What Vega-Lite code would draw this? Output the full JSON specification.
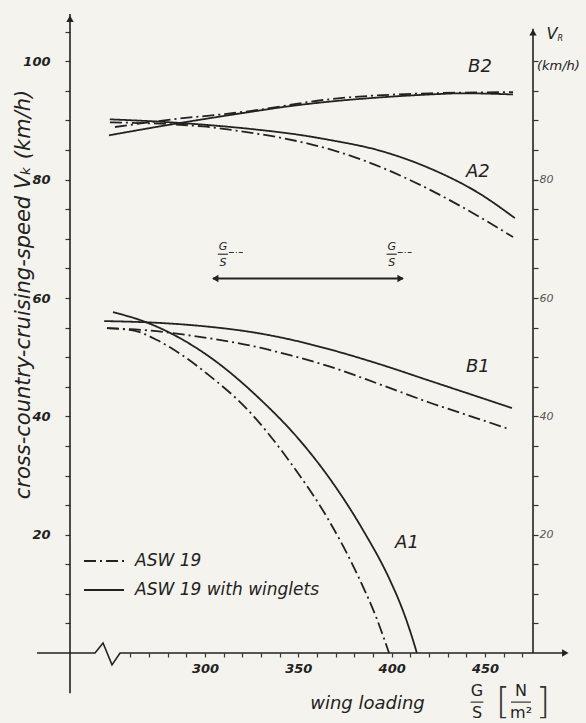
{
  "$schema": "https://vega.github.io/schema/vega-lite/v6.json",
  "width": 463,
  "height": 639,
  "autosize": {"type": "none"},
  "padding": {"left": 70, "top": 14, "right": 53, "bottom": 70},
  "background": "#f5f3ee",
  "config": {"view": {"stroke": null}, "font": "DejaVu Sans"},
  "datasets": {
    "curves": [
      {"curve": "A1", "glider": "ASW 19 with winglets", "w": 250.7, "v": 57.6},
      {"curve": "A1", "glider": "ASW 19 with winglets", "w": 266.8, "v": 56.1},
      {"curve": "A1", "glider": "ASW 19 with winglets", "w": 281.3, "v": 54.1},
      {"curve": "A1", "glider": "ASW 19 with winglets", "w": 302.7, "v": 50.0},
      {"curve": "A1", "glider": "ASW 19 with winglets", "w": 329.5, "v": 42.9},
      {"curve": "A1", "glider": "ASW 19 with winglets", "w": 350.9, "v": 35.9},
      {"curve": "A1", "glider": "ASW 19 with winglets", "w": 367.0, "v": 29.4},
      {"curve": "A1", "glider": "ASW 19 with winglets", "w": 384.6, "v": 20.8},
      {"curve": "A1", "glider": "ASW 19 with winglets", "w": 399.1, "v": 12.3},
      {"curve": "A1", "glider": "ASW 19 with winglets", "w": 405.5, "v": 7.6},
      {"curve": "A1", "glider": "ASW 19 with winglets", "w": 410.5, "v": 3.1},
      {"curve": "A1", "glider": "ASW 19 with winglets", "w": 413.5, "v": 0},
      {"curve": "A2", "glider": "ASW 19 with winglets", "w": 249.0, "v": 90.2},
      {"curve": "A2", "glider": "ASW 19 with winglets", "w": 281.0, "v": 89.7},
      {"curve": "A2", "glider": "ASW 19 with winglets", "w": 303.0, "v": 89.2},
      {"curve": "A2", "glider": "ASW 19 with winglets", "w": 329.5, "v": 88.4},
      {"curve": "A2", "glider": "ASW 19 with winglets", "w": 350.0, "v": 87.6},
      {"curve": "A2", "glider": "ASW 19 with winglets", "w": 367.0, "v": 86.7},
      {"curve": "A2", "glider": "ASW 19 with winglets", "w": 393.7, "v": 84.9},
      {"curve": "A2", "glider": "ASW 19 with winglets", "w": 420.5, "v": 81.9},
      {"curve": "A2", "glider": "ASW 19 with winglets", "w": 447.3, "v": 77.6},
      {"curve": "A2", "glider": "ASW 19 with winglets", "w": 466.0, "v": 73.5},
      {"curve": "B1", "glider": "ASW 19 with winglets", "w": 246.0, "v": 56.1},
      {"curve": "B1", "glider": "ASW 19 with winglets", "w": 275.0, "v": 55.8},
      {"curve": "B1", "glider": "ASW 19 with winglets", "w": 297.0, "v": 55.3},
      {"curve": "B1", "glider": "ASW 19 with winglets", "w": 329.5, "v": 54.0},
      {"curve": "B1", "glider": "ASW 19 with winglets", "w": 351.0, "v": 52.6},
      {"curve": "B1", "glider": "ASW 19 with winglets", "w": 367.0, "v": 51.3},
      {"curve": "B1", "glider": "ASW 19 with winglets", "w": 393.7, "v": 48.8},
      {"curve": "B1", "glider": "ASW 19 with winglets", "w": 420.5, "v": 46.0},
      {"curve": "B1", "glider": "ASW 19 with winglets", "w": 447.3, "v": 43.2},
      {"curve": "B1", "glider": "ASW 19 with winglets", "w": 464.4, "v": 41.4},
      {"curve": "B2", "glider": "ASW 19 with winglets", "w": 248.6, "v": 87.5},
      {"curve": "B2", "glider": "ASW 19 with winglets", "w": 281.3, "v": 89.3},
      {"curve": "B2", "glider": "ASW 19 with winglets", "w": 329.5, "v": 91.7},
      {"curve": "B2", "glider": "ASW 19 with winglets", "w": 340.2, "v": 92.2},
      {"curve": "B2", "glider": "ASW 19 with winglets", "w": 367.0, "v": 93.2},
      {"curve": "B2", "glider": "ASW 19 with winglets", "w": 393.7, "v": 93.9},
      {"curve": "B2", "glider": "ASW 19 with winglets", "w": 420.5, "v": 94.4},
      {"curve": "B2", "glider": "ASW 19 with winglets", "w": 438.2, "v": 94.6},
      {"curve": "B2", "glider": "ASW 19 with winglets", "w": 465.0, "v": 94.4},
      {"curve": "A1", "glider": "ASW 19", "w": 247.5, "v": 54.9},
      {"curve": "A1", "glider": "ASW 19", "w": 262.0, "v": 54.5},
      {"curve": "A1", "glider": "ASW 19", "w": 274.3, "v": 52.9},
      {"curve": "A1", "glider": "ASW 19", "w": 288.0, "v": 50.3},
      {"curve": "A1", "glider": "ASW 19", "w": 301.1, "v": 47.2},
      {"curve": "A1", "glider": "ASW 19", "w": 322.0, "v": 41.4},
      {"curve": "A1", "glider": "ASW 19", "w": 347.1, "v": 31.6},
      {"curve": "A1", "glider": "ASW 19", "w": 366.0, "v": 22.6},
      {"curve": "A1", "glider": "ASW 19", "w": 382.0, "v": 13.0},
      {"curve": "A1", "glider": "ASW 19", "w": 392.0, "v": 5.8},
      {"curve": "A1", "glider": "ASW 19", "w": 398.6, "v": 0},
      {"curve": "A2", "glider": "ASW 19", "w": 249.1, "v": 89.7},
      {"curve": "A2", "glider": "ASW 19", "w": 298.9, "v": 89.0},
      {"curve": "A2", "glider": "ASW 19", "w": 318.7, "v": 88.2},
      {"curve": "A2", "glider": "ASW 19", "w": 340.2, "v": 87.1},
      {"curve": "A2", "glider": "ASW 19", "w": 357.8, "v": 85.9},
      {"curve": "A2", "glider": "ASW 19", "w": 384.6, "v": 83.3},
      {"curve": "A2", "glider": "ASW 19", "w": 411.4, "v": 79.7},
      {"curve": "A2", "glider": "ASW 19", "w": 438.2, "v": 75.3},
      {"curve": "A2", "glider": "ASW 19", "w": 465.0, "v": 70.3},
      {"curve": "B1", "glider": "ASW 19", "w": 247.5, "v": 54.9},
      {"curve": "B1", "glider": "ASW 19", "w": 266.8, "v": 54.6},
      {"curve": "B1", "glider": "ASW 19", "w": 293.6, "v": 53.6},
      {"curve": "B1", "glider": "ASW 19", "w": 329.5, "v": 51.6},
      {"curve": "B1", "glider": "ASW 19", "w": 346.0, "v": 50.3},
      {"curve": "B1", "glider": "ASW 19", "w": 367.0, "v": 48.4},
      {"curve": "B1", "glider": "ASW 19", "w": 393.7, "v": 45.4},
      {"curve": "B1", "glider": "ASW 19", "w": 420.5, "v": 42.3},
      {"curve": "B1", "glider": "ASW 19", "w": 447.3, "v": 39.5},
      {"curve": "B1", "glider": "ASW 19", "w": 462.3, "v": 37.9},
      {"curve": "B2", "glider": "ASW 19", "w": 251.8, "v": 88.9},
      {"curve": "B2", "glider": "ASW 19", "w": 288.2, "v": 90.4},
      {"curve": "B2", "glider": "ASW 19", "w": 308.0, "v": 91.0},
      {"curve": "B2", "glider": "ASW 19", "w": 324.1, "v": 91.6},
      {"curve": "B2", "glider": "ASW 19", "w": 367.0, "v": 93.6},
      {"curve": "B2", "glider": "ASW 19", "w": 420.5, "v": 94.6},
      {"curve": "B2", "glider": "ASW 19", "w": 465.0, "v": 94.8}
    ],
    "axislines": [
      {"line": "L", "i": 1, "w": 227.7, "v": -6.8},
      {"line": "L", "i": 2, "w": 227.7, "v": 108.0},
      {"line": "R", "i": 1, "w": 475.7, "v": 0},
      {"line": "R", "i": 2, "w": 475.7, "v": 105.5},
      {"line": "X", "i": 1, "w": 210.0, "v": 0},
      {"line": "X", "i": 2, "w": 241.1, "v": 0},
      {"line": "X", "i": 3, "w": 245.4, "v": 1.7},
      {"line": "X", "i": 4, "w": 250.2, "v": -2.0},
      {"line": "X", "i": 5, "w": 254.5, "v": 0},
      {"line": "X", "i": 6, "w": 492.0, "v": 0}
    ],
    "heads": [
      {"dir": "up", "w": 227.7, "v": 107.2},
      {"dir": "up", "w": 475.7, "v": 104.9},
      {"dir": "right", "w": 493.0, "v": 0},
      {"dir": "left", "w": 305.5, "v": 63.3},
      {"dir": "right", "w": 404.8, "v": 63.3}
    ],
    "gsarrow": [{"w": 304.3, "w2": 406.0, "v": 63.3}],
    "fracbars": [
      {"w": 442.3, "w2": 449.1, "v": -8.3},
      {"w": 463.9, "w2": 474.6, "v": -8.3},
      {"w": 306.9, "w2": 312.3, "v": 67.4},
      {"w": 397.3, "w2": 402.7, "v": 67.4}
    ],
    "snippets": [
      {"w": 312.8, "w2": 320.3, "v": 67.7},
      {"w": 403.2, "w2": 410.7, "v": 67.7}
    ],
    "notes": [
      {"grp": "curve", "text": "B2", "w": 447.3, "v": 99.0},
      {"grp": "curve", "text": "A2", "w": 446.2, "v": 81.3},
      {"grp": "curve", "text": "B1", "w": 446.2, "v": 48.3},
      {"grp": "curve", "text": "A1", "w": 408.2, "v": 18.6},
      {"grp": "frac", "text": "G", "w": 309.6, "v": 68.7},
      {"grp": "frac", "text": "S", "w": 309.6, "v": 66.0},
      {"grp": "frac", "text": "G", "w": 400.0, "v": 68.7},
      {"grp": "frac", "text": "S", "w": 400.0, "v": 66.0},
      {"grp": "unit", "text": "G", "w": 445.7, "v": -6.5},
      {"grp": "unit", "text": "S", "w": 445.7, "v": -10.2},
      {"grp": "unit", "text": "N", "w": 469.3, "v": -6.4},
      {"grp": "unit", "text": "m²", "w": 469.3, "v": -10.2},
      {"grp": "bracket", "text": "[", "w": 459.6, "v": -8.3},
      {"grp": "bracket", "text": "]", "w": 481.0, "v": -8.3},
      {"grp": "vr", "text": "V", "w": 485.9, "v": 104.7},
      {"grp": "vrsub", "text": "R", "w": 490.3, "v": 103.8},
      {"grp": "vrunit", "text": "(km/h)", "w": 477.8, "v": 99.2}
    ]
  },
  "resolve": {"axis": {"y": "independent", "x": "independent"}},
  "layer": [
    {
      "data": {"name": "axislines"},
      "mark": {"type": "line", "color": "#222", "strokeWidth": 1.6, "clip": false},
      "encoding": {
        "x": {"field": "w", "type": "quantitative", "scale": {"domain": [227.7, 475.7], "nice": false, "zero": false}, "axis": null},
        "y": {"field": "v", "type": "quantitative", "scale": {"domain": [0, 108], "nice": false, "zero": false},
          "axis": {"orient": "right", "values": [5,10,15,20,25,30,35,40,45,50,55,60,65,70,75,80,85,90,95,100],
            "labelExpr": "datum.value % 20 == 0 && datum.value < 100 ? datum.label : ''",
            "domain": false, "grid": false, "tickSize": 5, "tickColor": "#333", "tickWidth": 1.2,
            "labelPadding": 1, "labelFontSize": 11, "labelColor": "#555", "labelFontStyle": "italic", "title": null}},
        "detail": {"field": "line"},
        "order": {"field": "i"}
      }
    },
    {
      "data": {"name": "curves"},
      "mark": {"type": "line", "color": "#222", "strokeWidth": 1.8, "interpolate": "monotone", "clip": false},
      "encoding": {
        "x": {"field": "w", "type": "quantitative", "scale": {"domain": [227.7, 475.7], "nice": false, "zero": false},
          "axis": {"values": [260,270,280,290,300,310,320,330,340,350,360,370,380,390,400,410,420,430,440,450,460,470],
            "labelExpr": "datum.value % 50 == 0 ? datum.label : ''",
            "domain": false, "grid": false, "tickSize": 4, "tickColor": "#333", "tickWidth": 1.2,
            "labelPadding": 5, "labelFontSize": 13, "labelFontStyle": "italic", "labelFontWeight": "bold", "labelColor": "#222",
            "title": "wing loading", "titleFontSize": 18, "titleFontStyle": "italic", "titleFontWeight": "normal",
            "titleColor": "#222", "titleX": 297, "titleY": 50, "titleBaseline": "middle", "titleAlign": "center"}},
        "y": {"field": "v", "type": "quantitative", "scale": {"domain": [0, 108], "nice": false, "zero": false},
          "axis": {"orient": "left", "values": [5,10,15,20,25,30,35,40,45,50,55,60,65,70,75,80,85,90,95,100,105],
            "labelExpr": "datum.value % 20 == 0 ? datum.label : ''",
            "domain": false, "grid": false, "tickSize": 5, "tickColor": "#333", "tickWidth": 1.2,
            "labelPadding": 15, "labelFontSize": 13, "labelFontStyle": "italic", "labelFontWeight": "bold", "labelColor": "#222",
            "title": "cross-country-cruising-speed   Vₖ   (km/h)", "titleFontSize": 21, "titleFontStyle": "italic",
            "titleFontWeight": "normal", "titleColor": "#222", "titleAngle": 270, "titleX": -47, "titleY": 280,
            "titleAlign": "center", "titleBaseline": "middle"}},
        "detail": {"field": "curve"},
        "strokeDash": {"field": "glider", "type": "nominal",
          "scale": {"domain": ["ASW 19", "ASW 19 with winglets"], "range": [[12, 4, 2, 4], [1, 0]]},
          "legend": {"orient": "none", "legendX": 13, "legendY": 526, "title": null, "symbolType": "stroke",
            "symbolSize": 1600, "symbolStrokeWidth": 1.8, "symbolStrokeColor": "#222",
            "labelFontSize": 17, "labelFontStyle": "italic", "labelColor": "#222", "labelOffset": 10,
            "rowPadding": 0, "labelLimit": 400}}
      }
    },
    {
      "data": {"name": "gsarrow"},
      "mark": {"type": "rule", "color": "#222", "strokeWidth": 2.2, "clip": false},
      "encoding": {
        "x": {"field": "w", "type": "quantitative", "scale": {"domain": [227.7, 475.7], "nice": false, "zero": false}, "axis": null},
        "x2": {"field": "w2"},
        "y": {"field": "v", "type": "quantitative", "scale": {"domain": [0, 108], "nice": false, "zero": false}, "axis": null}
      }
    },
    {
      "data": {"name": "fracbars"},
      "mark": {"type": "rule", "color": "#222", "strokeWidth": 1.1, "clip": false},
      "encoding": {
        "x": {"field": "w", "type": "quantitative", "scale": {"domain": [227.7, 475.7], "nice": false, "zero": false}, "axis": null},
        "x2": {"field": "w2"},
        "y": {"field": "v", "type": "quantitative", "scale": {"domain": [0, 108], "nice": false, "zero": false}, "axis": null}
      }
    },
    {
      "data": {"name": "snippets"},
      "mark": {"type": "rule", "color": "#333", "strokeWidth": 1.1, "strokeDash": [5, 2, 1, 2], "clip": false},
      "encoding": {
        "x": {"field": "w", "type": "quantitative", "scale": {"domain": [227.7, 475.7], "nice": false, "zero": false}, "axis": null},
        "x2": {"field": "w2"},
        "y": {"field": "v", "type": "quantitative", "scale": {"domain": [0, 108], "nice": false, "zero": false}, "axis": null}
      }
    },
    {
      "data": {"name": "heads"},
      "mark": {"type": "point", "filled": true, "color": "#222", "size": 55, "opacity": 1, "clip": false},
      "encoding": {
        "x": {"field": "w", "type": "quantitative", "scale": {"domain": [227.7, 475.7], "nice": false, "zero": false}, "axis": null},
        "y": {"field": "v", "type": "quantitative", "scale": {"domain": [0, 108], "nice": false, "zero": false}, "axis": null},
        "shape": {"field": "dir", "type": "nominal",
          "scale": {"domain": ["up", "right", "left"], "range": ["triangle-up", "triangle-right", "triangle-left"]},
          "legend": null}
      }
    },
    {
      "mark": {"type": "point", "filled": true, "fill": "#f5f3ee", "stroke": "#222", "strokeWidth": 1.6, "size": 190, "opacity": 1, "clip": false},
      "encoding": {
        "x": {"datum": 227.7, "type": "quantitative", "scale": {"domain": [227.7, 475.7], "nice": false, "zero": false}, "axis": null},
        "y": {"datum": 0, "type": "quantitative", "scale": {"domain": [0, 108], "nice": false, "zero": false}, "axis": null}
      }
    },
    {
      "data": {"name": "notes"},
      "transform": [{"filter": "datum.grp == 'curve'"}],
      "mark": {"type": "text", "fontSize": 18, "fontStyle": "italic", "color": "#222", "align": "center", "baseline": "middle", "clip": false},
      "encoding": {
        "x": {"field": "w", "type": "quantitative", "scale": {"domain": [227.7, 475.7], "nice": false, "zero": false}, "axis": null},
        "y": {"field": "v", "type": "quantitative", "scale": {"domain": [0, 108], "nice": false, "zero": false}, "axis": null},
        "text": {"field": "text"}
      }
    },
    {
      "data": {"name": "notes"},
      "transform": [{"filter": "datum.grp == 'frac'"}],
      "mark": {"type": "text", "fontSize": 11, "fontStyle": "italic", "color": "#222", "align": "center", "baseline": "middle", "clip": false},
      "encoding": {
        "x": {"field": "w", "type": "quantitative", "scale": {"domain": [227.7, 475.7], "nice": false, "zero": false}, "axis": null},
        "y": {"field": "v", "type": "quantitative", "scale": {"domain": [0, 108], "nice": false, "zero": false}, "axis": null},
        "text": {"field": "text"}
      }
    },
    {
      "data": {"name": "notes"},
      "transform": [{"filter": "datum.grp == 'unit'"}],
      "mark": {"type": "text", "fontSize": 16, "color": "#222", "align": "center", "baseline": "middle", "clip": false},
      "encoding": {
        "x": {"field": "w", "type": "quantitative", "scale": {"domain": [227.7, 475.7], "nice": false, "zero": false}, "axis": null},
        "y": {"field": "v", "type": "quantitative", "scale": {"domain": [0, 108], "nice": false, "zero": false}, "axis": null},
        "text": {"field": "text"}
      }
    },
    {
      "data": {"name": "notes"},
      "transform": [{"filter": "datum.grp == 'bracket'"}],
      "mark": {"type": "text", "fontSize": 36, "font": "DejaVu Sans", "fontWeight": 200, "color": "#333", "align": "center", "baseline": "middle", "clip": false},
      "encoding": {
        "x": {"field": "w", "type": "quantitative", "scale": {"domain": [227.7, 475.7], "nice": false, "zero": false}, "axis": null},
        "y": {"field": "v", "type": "quantitative", "scale": {"domain": [0, 108], "nice": false, "zero": false}, "axis": null},
        "text": {"field": "text"}
      }
    },
    {
      "data": {"name": "notes"},
      "transform": [{"filter": "datum.grp == 'vr'"}],
      "mark": {"type": "text", "fontSize": 16, "fontStyle": "italic", "color": "#222", "align": "center", "baseline": "middle", "clip": false},
      "encoding": {
        "x": {"field": "w", "type": "quantitative", "scale": {"domain": [227.7, 475.7], "nice": false, "zero": false}, "axis": null},
        "y": {"field": "v", "type": "quantitative", "scale": {"domain": [0, 108], "nice": false, "zero": false}, "axis": null},
        "text": {"field": "text"}
      }
    },
    {
      "data": {"name": "notes"},
      "transform": [{"filter": "datum.grp == 'vrsub'"}],
      "mark": {"type": "text", "fontSize": 8, "fontStyle": "italic", "color": "#222", "align": "center", "baseline": "middle", "clip": false},
      "encoding": {
        "x": {"field": "w", "type": "quantitative", "scale": {"domain": [227.7, 475.7], "nice": false, "zero": false}, "axis": null},
        "y": {"field": "v", "type": "quantitative", "scale": {"domain": [0, 108], "nice": false, "zero": false}, "axis": null},
        "text": {"field": "text"}
      }
    },
    {
      "data": {"name": "notes"},
      "transform": [{"filter": "datum.grp == 'vrunit'"}],
      "mark": {"type": "text", "fontSize": 13, "fontStyle": "italic", "color": "#222", "align": "left", "baseline": "middle", "clip": false},
      "encoding": {
        "x": {"field": "w", "type": "quantitative", "scale": {"domain": [227.7, 475.7], "nice": false, "zero": false}, "axis": null},
        "y": {"field": "v", "type": "quantitative", "scale": {"domain": [0, 108], "nice": false, "zero": false}, "axis": null},
        "text": {"field": "text"}
      }
    }
  ]
}
